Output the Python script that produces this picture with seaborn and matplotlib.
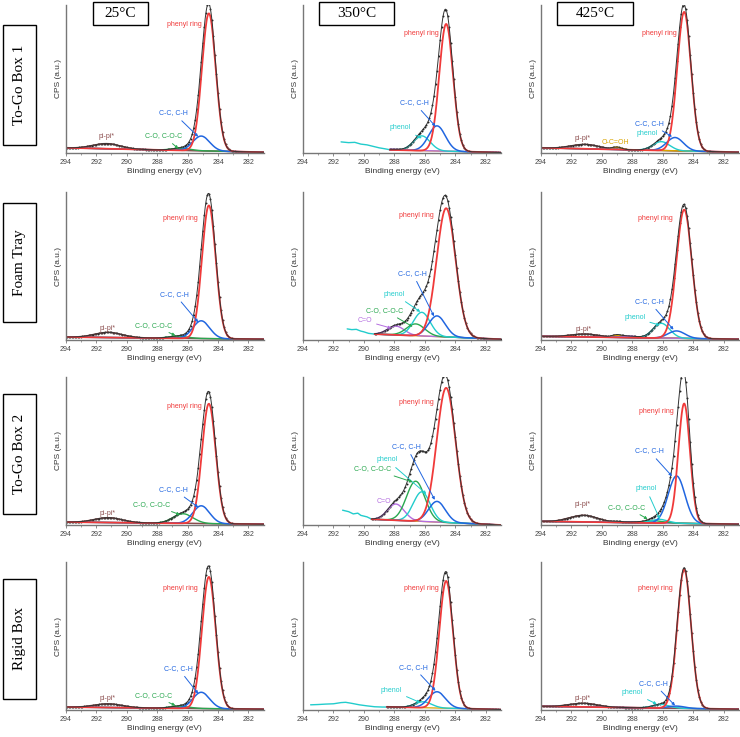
import numpy as np
import matplotlib
matplotlib.use("Agg")
import matplotlib.pyplot as plt
from matplotlib.patches import Rectangle
import seaborn as sns

# ---------------- data ----------------
ROWS = ["To-Go Box 1", "Foam Tray", "To-Go Box 2", "Rigid Box"]
TEMPS = ["25°C", "350°C", "425°C"]
XTICKS = [294, 292, 290, 288, 286, 284, 282]
XMINOR = [293, 291, 289, 287, 285, 283]

# panels in row-major order: (sample row, temperature column)
DATA_START = [294, 288.3, 294, 294, 289.3, 294, 294, 289.5, 294, 294, 288.5, 294]
BG_HI = [0.035, 0.035, 0.035, 0.02, 0.06, 0.025, 0.02, 0.06, 0.025, 0.02, 0.035, 0.025]
BG_LO = [0.005, 0.003, 0.005, 0.005, 0.005, 0.005, 0.005, 0.0, 0.005, 0.005, 0.003, 0.005]

# component peaks: center (eV), height (a.u.), sigma (eV)
PHENYL_C = [284.6] * 12
PHENYL_H = [0.93, 0.86, 0.94, 0.90, 0.87, 0.87, 0.81, 0.91, 0.81, 0.89, 0.86, 0.94]
PHENYL_S = [0.45, 0.45, 0.45, 0.45, 0.62, 0.50, 0.45, 0.62, 0.38, 0.45, 0.45, 0.45]

CCH_C = [285.1, 285.2, 285.2, 285.1, 285.2, 285.1, 285.1, 285.2, 285.1, 285.1, 285.2, 285.1]
CCH_H = [0.10, 0.17, 0.09, 0.12, 0.14, 0.05, 0.12, 0.14, 0.32, 0.11, 0.11, 0.015]
CCH_S = [0.55, 0.55, 0.55, 0.55, 0.55, 0.55, 0.55, 0.55, 0.55, 0.55, 0.55, 0.55]

PHENOL_C = [286.1, 286.2, 286.1, 286.1, 286.2, 286.1, 286.1, 286.2, 286.2, 286.1, 286.1, 286.1]
PHENOL_H = [0.0, 0.10, 0.06, 0.0, 0.16, 0.10, 0.0, 0.20, 0.025, 0.0, 0.04, 0.025]
PHENOL_S = [0.55] * 12

CO_C = [286.4, 286.6, 286.5, 286.6, 286.6, 286.5, 286.3, 286.6, 286.5, 286.5, 286.6, 286.5]
CO_H = [0.015, 0.0, 0.0, 0.015, 0.08, 0.0, 0.065, 0.27, 0.015, 0.015, 0.0, 0.0]
CO_S = [0.6, 0.6, 0.6, 0.6, 0.6, 0.6, 0.65, 0.6, 0.6, 0.6, 0.6, 0.6]

CDO_C = [287.9, 288.1, 288.0, 287.9, 287.9, 288.2, 287.9, 287.9, 288.0, 287.9, 288.0, 288.0]
CDO_H = [0.0, 0.005, 0.0, 0.0, 0.06, 0.01, 0.0, 0.11, 0.005, 0.0, 0.0, 0.0]
CDO_S = [0.55] * 12

OCOH_C = [289.0] * 12
OCOH_H = [0.0, 0.0, 0.015, 0.0, 0.0, 0.015, 0.0, 0.0, 0.005, 0.0, 0.0, 0.0]
OCOH_S = [0.3] * 12

PI_C = [291.3, 291.2, 291.1, 291.2, 291.2, 291.1, 291.2, 291.2, 291.2, 291.2, 291.2, 291.2]
PI_H = [0.035, 0.0, 0.03, 0.035, 0.0, 0.02, 0.033, 0.0, 0.045, 0.025, 0.0, 0.025]
PI_S = [0.9] * 12

# high-binding-energy tail of the 350 °C spectra (cyan)
TAIL_X = [[], [291.5, 291.0, 290.6, 290.2, 289.8, 289.4, 289.0, 288.6, 288.3], [],
          [], [291.1, 290.8, 290.5, 290.2, 290.0, 289.7, 289.3], [],
          [], [291.4, 291.0, 290.7, 290.4, 290.2, 290.0, 289.8, 289.5], [],
          [], [293.5, 293.0, 292.5, 292.0, 291.5, 291.2, 290.8, 290.3, 289.8, 289.3, 288.8, 288.5], []]
TAIL_Y = [[], [0.075, 0.07, 0.072, 0.06, 0.055, 0.045, 0.035, 0.028, 0.022], [],
          [], [0.075, 0.07, 0.072, 0.06, 0.055, 0.045, 0.04], [],
          [], [0.10, 0.09, 0.075, 0.08, 0.065, 0.06, 0.055, 0.04], [],
          [], [0.035, 0.037, 0.04, 0.042, 0.05, 0.052, 0.045, 0.035, 0.028, 0.022, 0.02, 0.02], []]

# ---------------- label layout (text centre, arrow target) ----------------
PHENYL_LBL = [(286.2, 0.87), (286.2, 0.81), (286.25, 0.81), (286.5, 0.82), (286.55, 0.84), (286.5, 0.82),
              (286.2, 0.80), (286.55, 0.83), (286.4, 0.77), (286.5, 0.82), (286.2, 0.82), (286.5, 0.82)]
CCH_LBL = [(286.9, 0.27, 285.3, 0.11), (286.7, 0.34, 285.3, 0.18), (286.85, 0.20, 285.4, 0.11),
           (286.85, 0.31, 285.3, 0.12), (286.8, 0.45, 285.4, 0.16), (286.9, 0.26, 285.3, 0.07),
           (286.9, 0.24, 285.3, 0.12), (287.2, 0.53, 285.35, 0.17), (286.9, 0.50, 285.4, 0.33),
           (286.6, 0.28, 285.3, 0.11), (286.75, 0.29, 285.3, 0.13), (286.6, 0.18, 285.2, 0.03)]
PHENOL_LBL = [None, (287.6, 0.17, 286.2, 0.10), (287.05, 0.13, None, None),
              None, (288.0, 0.31, 286.3, 0.19), (287.85, 0.15, 286.2, 0.10),
              None, (288.5, 0.44, 285.9, 0.21), (287.1, 0.245, 286.2, 0.04),
              None, (288.2, 0.135, 286.3, 0.05), (288.0, 0.12, 286.4, 0.04)]
CO_LBL = [(287.6, 0.115, 286.6, 0.03), None, None,
          (288.25, 0.10, 286.8, 0.03), (288.65, 0.20, 286.8, 0.09), None,
          (288.35, 0.14, 286.5, 0.07), (289.45, 0.38, 286.8, 0.29), (288.35, 0.12, 287.0, 0.04),
          (288.25, 0.10, 286.8, 0.03), None, None]
CDO_LBL = [None, None, None,
           None, (289.95, 0.13, 288.2, 0.08), None,
           None, (288.7, 0.16, None, None), None,
           None, None, None]
OCOH_LBL = [None, None, (289.1, 0.07, None, None), None, None, None,
            None, None, None, None, None, None]
PI_LBL = [(291.3, 0.11), None, (291.3, 0.10), (291.25, 0.075), None, (291.2, 0.07),
          (291.25, 0.075), None, (291.3, 0.14), (291.25, 0.075), None, (291.3, 0.075)]

# ---------------- style ----------------
RED = "#f03a3a"
BLUE = "#2166e0"
GREEN = "#2aa850"
CYAN = "#22cccc"
PURPLE = "#b46ee0"
ORANGE = "#d9a400"
BROWN = "#8b4c4c"
ENV = "#333333"

sns.set_theme(style="white")
plt.rcParams["font.family"] = ["Liberation Sans", "DejaVu Sans"]

W, H = 740, 737
fig = plt.figure(figsize=(W / 100, H / 100), dpi=100)

COL_LEFT = [65.7, 303, 541]
COL_W = 198
ROW_TOP = [5, 192, 377, 562]
ROW_H = 148


def gauss(x, c, h, s):
    return h * np.exp(-(x - c) ** 2 / (2 * s ** 2))


def annotate(ax, txt, lbl, color):
    if lbl is None:
        return
    if len(lbl) == 2 or lbl[2] is None:
        ax.text(lbl[0], lbl[1], txt, color=color, fontsize=5, ha="center", va="center")
    else:
        ax.annotate(txt, xy=(lbl[2], lbl[3]), xytext=(lbl[0], lbl[1]),
                    color=color, fontsize=5, ha="center", va="center",
                    arrowprops=dict(arrowstyle="-|>", color=color, lw=0.7,
                                    mutation_scale=4, shrinkA=1, shrinkB=0))


for r in range(4):
    for c in range(3):
        i = r * 3 + c
        left = COL_LEFT[c]
        top = ROW_TOP[r]
        ax = fig.add_axes([left / W, 1 - (top + ROW_H) / H, COL_W / W, ROW_H / H])

        x = np.linspace(281, DATA_START[i], 600)
        bg = BG_LO[i] + (BG_HI[i] - BG_LO[i]) * (x - 281) / 13.0
        comps = [
            (PI_C[i], PI_H[i], PI_S[i], BROWN, 1.0),
            (OCOH_C[i], OCOH_H[i], OCOH_S[i], ORANGE, 1.0),
            (CDO_C[i], CDO_H[i], CDO_S[i], PURPLE, 1.0),
            (CO_C[i], CO_H[i], CO_S[i], GREEN, 1.0),
            (PHENOL_C[i], PHENOL_H[i], PHENOL_S[i], CYAN, 1.0),
            (CCH_C[i], CCH_H[i], CCH_S[i], BLUE, 1.1),
            (PHENYL_C[i], PHENYL_H[i], PHENYL_S[i], RED, 1.3),
        ]
        env = bg.copy()
        bgcol = ORANGE if c == 1 else "#7a6a6a"
        sns.lineplot(x=x, y=bg, ax=ax, color=bgcol, linewidth=0.9, sort=False, estimator=None)
        if TAIL_X[i]:
            sns.lineplot(x=TAIL_X[i], y=TAIL_Y[i], ax=ax, color=CYAN, linewidth=1.0,
                         sort=False, estimator=None)
        for (cc, hh, ss, col, lw) in comps:
            if hh <= 0:
                continue
            g = gauss(x, cc, hh, ss)
            env = env + g
            sns.lineplot(x=x, y=bg + g, ax=ax, color=col, linewidth=lw, sort=False, estimator=None)
        sns.lineplot(x=x, y=env, ax=ax, color=ENV, linewidth=0.7, sort=False, estimator=None)
        xd = np.arange(DATA_START[i], 281.0, -0.1)
        envd = np.interp(xd, x, env)
        sns.scatterplot(x=xd, y=envd, ax=ax, s=2.0, color="#222222", linewidth=0)

        ax.set_xlim(294, 281)
        ax.set_ylim(0, 1.0)
        ax.set_xticks(XTICKS)
        ax.set_xticks(XMINOR, minor=True)
        ax.set_xticklabels([str(t) for t in XTICKS])
        ax.set_yticks([])
        for sp in ["top", "right"]:
            ax.spines[sp].set_visible(False)
        for sp in ["left", "bottom"]:
            ax.spines[sp].set_color("#777777")
            ax.spines[sp].set_linewidth(1.0)
        ax.tick_params(axis="x", which="major", length=2.5, width=0.6, color="#777777",
                       labelsize=5, pad=1.5, labelcolor="#444444", bottom=True)
        ax.tick_params(axis="x", which="minor", length=1.5, width=0.5, color="#777777", bottom=True)
        ax.set_xlabel("Binding energy (eV)", fontsize=6, color="#333333", labelpad=2)
        ax.set_ylabel("CPS (a.u.)", fontsize=6, color="#333333", labelpad=3)
        ax.patch.set_alpha(0)

        annotate(ax, "phenyl ring", PHENYL_LBL[i], RED)
        annotate(ax, "C-C, C-H", CCH_LBL[i], BLUE)
        annotate(ax, "phenol", PHENOL_LBL[i], CYAN)
        annotate(ax, "C-O, C-O-C", CO_LBL[i], GREEN)
        annotate(ax, "C=O", CDO_LBL[i], PURPLE)
        annotate(ax, "O-C=OH", OCOH_LBL[i], ORANGE)
        annotate(ax, "pi-pi*", PI_LBL[i], BROWN)

# column title boxes
TITLE_BOX = [(93, 2, 55, 23), (319, 2, 75, 23), (557, 2, 76, 23)]
for (bx, by, bw, bh), t in zip(TITLE_BOX, TEMPS):
    fig.patches.append(Rectangle((bx / W, 1 - (by + bh) / H), bw / W, bh / H,
                                 transform=fig.transFigure, fill=False,
                                 edgecolor="black", linewidth=1.0))
    fig.text((bx + bw / 2) / W, 1 - (by + bh / 2) / H, t, ha="center", va="center",
             fontsize=11, family="Liberation Serif", color="black")

# row label boxes
ROW_BOX = [(3, 25, 33, 120), (3, 203, 33, 119), (3, 394, 33, 120), (3, 579, 33, 120)]
for (bx, by, bw, bh), t in zip(ROW_BOX, ROWS):
    fig.patches.append(Rectangle((bx / W, 1 - (by + bh) / H), bw / W, bh / H,
                                 transform=fig.transFigure, fill=False,
                                 edgecolor="black", linewidth=1.0))
    fig.text((bx + bw / 2) / W, 1 - (by + bh / 2) / H, t, ha="center", va="center",
             rotation=90, fontsize=11, family="Liberation Serif", color="black")

fig.savefig("out.png", dpi=100)
